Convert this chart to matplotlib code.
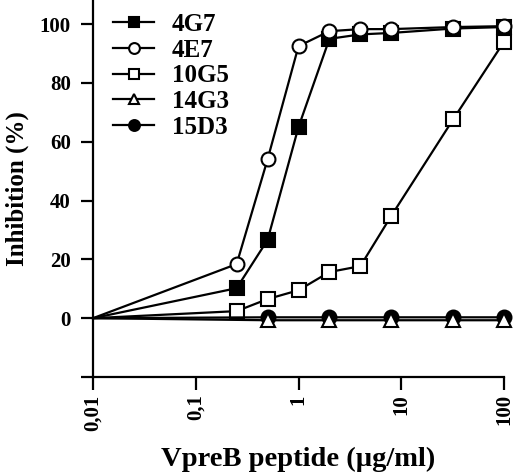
import numpy as np
import matplotlib.pyplot as plt
from matplotlib.ticker import FixedLocator, NullLocator

# Data (peptide concentration in ug/ml)
conc = [0.01, 0.25, 0.5, 1, 2, 4, 8, 32, 100]
inh_4G7 = [0, 10.2, 26.6, 65, 95, 96.5, 97, 98.5, 99]
inh_4E7 = [0, 18.4, 54, 92.5, 97.6, 98.3, 98.3, 99, 99.3]
inh_10G5 = [0, 2.4, 6.5, 9.5, 15.7, 17.7, 34.8, 67.6, 94]

conc_low = [0.01, 0.5, 2, 8, 32, 100]
inh_14G3 = [0, -0.7, -0.7, -0.7, -0.7, -0.7]
inh_15D3 = [0, 0.3, 0.3, 0.3, 0.3, 0.3]

x_ticks = [0.01, 0.1, 1, 10, 100]
x_labels = ["0,01", "0,1", "1", "10", "100"]
y_ticks = [-20, 0, 20, 40, 60, 80, 100]
y_labels = ["", "0", "20", "40", "60", "80", "100"]

plt.rcParams['font.family'] = ['Liberation Serif', 'DejaVu Serif']
plt.rcParams['font.weight'] = 'bold'

fig = plt.figure(figsize=(5.2, 4.76), dpi=100)
ax = fig.add_axes([93 / 520, 99 / 476, 411 / 520, 377 / 476])

style = dict(color='black', lw=1.6, ms=10, mew=1.5, markevery=slice(1, None), clip_on=False)
ax.plot(conc, inh_4G7, marker='s', mfc='black', label='4G7', zorder=3, **style)
ax.plot(conc, inh_4E7, marker='o', mfc='white', label='4E7', zorder=4, **style)
ax.plot(conc, inh_10G5, marker='s', mfc='white', label='10G5', zorder=3, **style)
ax.plot(conc_low, inh_14G3, marker='^', mfc='white', label='14G3', zorder=4, **style)
ax.plot(conc_low, inh_15D3, marker='o', mfc='black', label='15D3', zorder=3, **style)

ax.set_xscale('log')
ax.set_xlim(0.01, 100)
ax.set_ylim(-20, 108.2)
ax.xaxis.set_major_locator(FixedLocator(x_ticks))
ax.xaxis.set_minor_locator(NullLocator())
ax.set_xticklabels(x_labels, rotation=90, fontsize=15, fontweight='bold')
ax.set_yticks(y_ticks)
ax.set_yticklabels(y_labels, fontsize=15, fontweight='bold')

for s in ['top', 'right']:
    ax.spines[s].set_visible(False)
for s in ['left', 'bottom']:
    ax.spines[s].set_linewidth(1.6)
ax.tick_params(width=1.6, length=9, direction='out')
ax.tick_params(axis='y', pad=7)

ax.set_xlabel('VpreB peptide (\u00b5g/ml)', fontsize=20.5, fontweight='bold', labelpad=12)
ax.set_ylabel('Inhibition (%)', fontsize=18, fontweight='bold', labelpad=8)

ax.legend(loc='upper left', bbox_to_anchor=(0.0487, 0.966), frameon=False,
          borderpad=0, borderaxespad=0, handlelength=1.65, labelspacing=0.11,
          handletextpad=0.7, markerscale=0.78, prop={'weight': 'bold', 'size': 18})

fig.savefig('out.png', dpi=100)
